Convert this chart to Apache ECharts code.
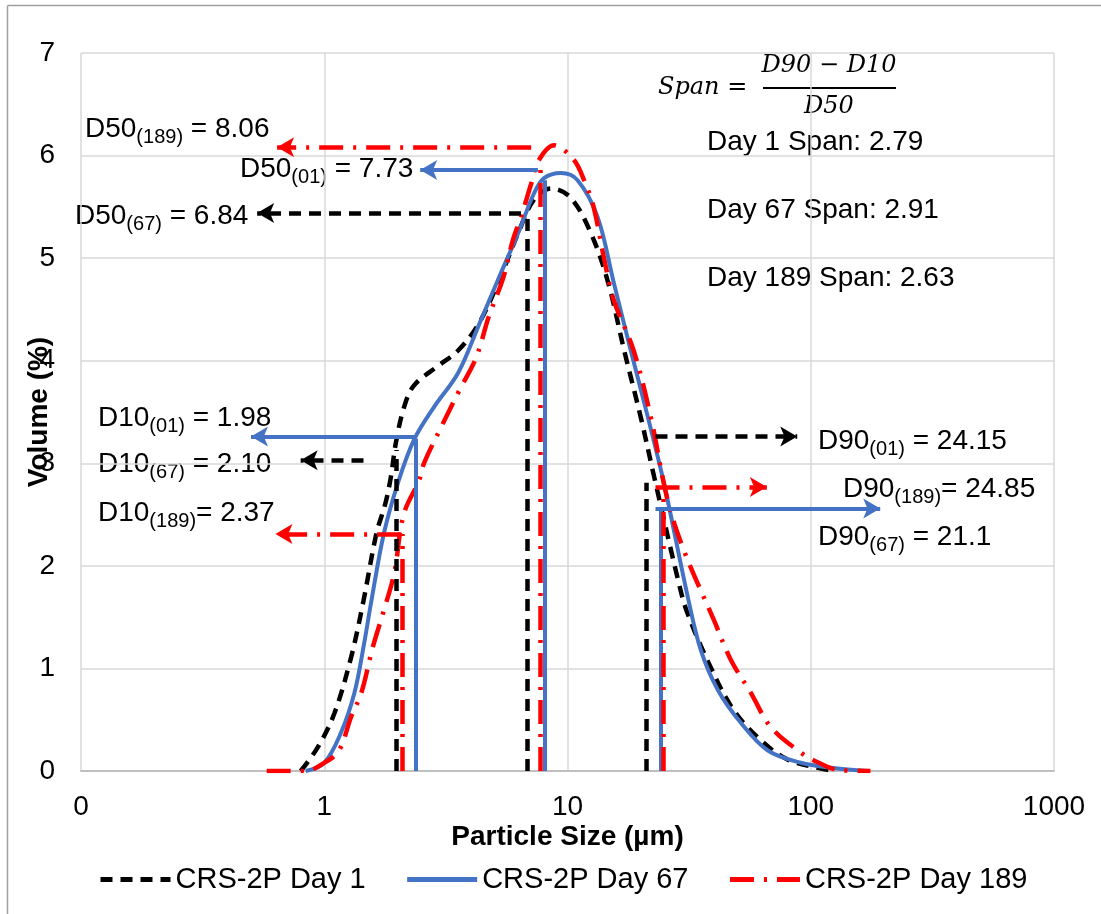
<!DOCTYPE html>
<html>
<head>
<meta charset="utf-8">
<script src="https://cdn.jsdelivr.net/npm/echarts@6/dist/echarts.min.js"></script>
<style>
  html, body { margin: 0; padding: 0; background: #ffffff; }
  #chart { width: 1101px; height: 914px; }
</style>
</head>
<body>
<div id="chart"></div>
<script>
// Particle size distribution curves (size in µm, volume in %)
const day1Size   = [0.80, 0.94, 1.10, 1.29, 1.45, 1.64, 1.78, 1.88, 1.97, 2.13, 2.34, 2.94, 3.55, 4.29, 5.18, 6.26, 7.28, 8.56, 10.3, 12.5, 14.7, 17.1, 20.0, 22.7, 28.5, 31.0, 38.8, 48.3, 62.3, 80.5, 107, 124];
const day1Volume = [0.00, 0.23, 0.56, 1.11, 1.66, 2.32, 2.60, 2.87, 3.20, 3.55, 3.76, 3.95, 4.10, 4.35, 4.76, 5.24, 5.57, 5.68, 5.59, 5.24, 4.76, 4.10, 3.45, 2.87, 1.86, 1.55, 1.01, 0.59, 0.30, 0.11, 0.03, 0.00];

const day67Size   = [0.84, 1.00, 1.17, 1.33, 1.46, 1.56, 1.76, 2.01, 2.34, 2.83, 3.55, 4.29, 5.18, 6.26, 7.28, 8.01, 9.40, 11.0, 13.3, 15.5, 18.2, 21.4, 24.9, 31.2, 35.3, 41.5, 51.6, 66.6, 91.0, 124, 171];
const day67Volume = [0.00, 0.08, 0.37, 0.76, 1.25, 1.65, 2.32, 2.81, 3.23, 3.55, 3.88, 4.33, 4.79, 5.24, 5.63, 5.78, 5.83, 5.76, 5.40, 4.76, 4.10, 3.45, 2.81, 1.70, 1.18, 0.79, 0.47, 0.20, 0.08, 0.03, 0.00];

const day189Size   = [0.58, 0.84, 1.00, 1.15, 1.29, 1.42, 1.58, 1.75, 1.94, 2.12, 2.46, 2.57, 3.02, 3.59, 4.21, 4.76, 5.43, 5.97, 6.44, 7.10, 7.60, 8.80, 10.6, 11.7, 12.8, 14.1, 15.5, 18.7, 22.0, 25.8, 30.1, 40.0, 47.0, 56.8, 68.4, 91.0, 108, 130, 176];
const day189Volume = [0.00, 0.00, 0.08, 0.20, 0.53, 0.76, 1.20, 1.55, 1.93, 2.50, 2.84, 3.00, 3.35, 3.71, 4.03, 4.44, 4.80, 5.18, 5.40, 5.73, 5.95, 6.10, 5.96, 5.76, 5.50, 5.01, 4.59, 4.10, 3.45, 2.64, 2.15, 1.47, 1.08, 0.76, 0.43, 0.18, 0.08, 0.01, 0.00];

const seriesNames = ['CRS-2P Day 1', 'CRS-2P Day 67', 'CRS-2P Day 189'];

// Characteristic diameters, in label order: (01), (67), (189)
const d10Values = [1.98, 2.10, 2.37];
const d50Values = [7.73, 6.84, 8.06];
const d90Values = [24.15, 21.1, 24.85];
const spanValues = [2.79, 2.91, 2.63];
const dayTags = ['01', '67', '189'];
const dayNumbers = ['1', '67', '189'];

function pairs(xs, ys) { return xs.map((x, i) => [x, ys[i]]); }

const BLACK = '#000000', BLUE = '#4472C4', RED = '#FF0000';
const dashBlack = [12, 8];
const dashRed = [24, 10, 3, 10];

// Guide lines for each curve: drop lines [x, top] and arrows [from, to, level]
const guides = {
  black: {
    drops: [[d10Values[0], 3.13], [d50Values[1], 5.40], [d90Values[1], 2.81]],
    arrows: [[6.44, 0.53, 5.44], [1.45, 0.80, 3.03], [23.0, 88.0, 3.26]]
  },
  blue: {
    drops: [[d10Values[2], 3.24], [d50Values[2], 5.76], [d90Values[0], 2.56]],
    arrows: [[7.56, 2.48, 5.86], [2.34, 0.50, 3.26], [23.0, 193, 2.56]]
  },
  red: {
    drops: [[d10Values[1], 2.31], [d50Values[0], 5.93], [d90Values[2], 2.77]],
    arrows: [[7.09, 0.64, 6.08], [2.07, 0.63, 2.31], [23.0, 66.0, 2.77]]
  }
};

function guideLines(g) {
  const out = [];
  g.drops.forEach(([x, top]) => {
    out.push([{ coord: [x, 0], symbol: 'none' }, { coord: [x, top], symbol: 'none' }]);
  });
  g.arrows.forEach(([x1, x2, y]) => {
    out.push([{ coord: [x1, y], symbol: 'none' }, { coord: [x2, y], symbol: 'arrow' }]);
  });
  return out;
}

function makeSeries(name, data, color, dash, width, g) {
  return {
    name: name,
    type: 'line',
    data: data,
    smooth: 0.35,
    symbol: 'none',
    showSymbol: false,
    lineStyle: { color: color, width: width, type: dash, cap: 'butt' },
    itemStyle: { color: color },
    z: 3,
    markLine: {
      silent: true,
      animation: false,
      symbolSize: [15, 17],
      label: { show: false },
      emphasis: { disabled: true },
      lineStyle: { color: color, width: width, type: dash },
      data: guideLines(g)
    }
  };
}

const FONT = '"Liberation Sans", Arial, sans-serif';
const SERIF = '"DejaVu Serif", "Liberation Serif", serif';

// Label text with subscripted day tag
function dLabel(prefix, tag, value, gap, x, cy) {
  return {
    type: 'text',
    left: x,
    top: cy - 13,
    silent: true,
    style: {
      text: '{m|' + prefix + '}{s|(' + tag + ')}{m|' + gap + '= ' + value + '}',
      rich: {
        m: { fontFamily: FONT, fontSize: 28, lineHeight: 28, verticalAlign: 'top', fill: '#000' },
        s: { fontFamily: FONT, fontSize: 20, lineHeight: 20, verticalAlign: 'top', padding: [12, 0, 0, 0], fill: '#000' }
      }
    }
  };
}

function plainText(text, x, cy) {
  return {
    type: 'text', left: x, top: cy - 15, silent: true,
    style: { text: text, fontFamily: FONT, fontSize: 28, fill: '#000' }
  };
}

const graphics = [
  // outer frame
  { type: 'line', silent: true, shape: { x1: 7.5, y1: 5.5, x2: 7.5, y2: 914 }, style: { stroke: '#a0a0a0', lineWidth: 1.5 } },
  { type: 'line', silent: true, shape: { x1: 7.5, y1: 5.5, x2: 1101, y2: 5.5 }, style: { stroke: '#a0a0a0', lineWidth: 1.5 } },

  dLabel('D50', dayTags[2], d50Values[2].toFixed(2), ' ', 85, 128),
  dLabel('D50', dayTags[0], d50Values[0].toFixed(2), ' ', 240, 168),
  dLabel('D50', dayTags[1], d50Values[1].toFixed(2), ' ', 75, 215),
  dLabel('D10', dayTags[0], d10Values[0].toFixed(2), ' ', 98, 417),
  dLabel('D10', dayTags[1], d10Values[1].toFixed(2), ' ', 98, 463),
  dLabel('D10', dayTags[2], d10Values[2].toFixed(2), '', 98, 512),
  dLabel('D90', dayTags[0], d90Values[0].toFixed(2), ' ', 818, 440),
  dLabel('D90', dayTags[2], d90Values[2].toFixed(2), '', 843, 488),
  dLabel('D90', dayTags[1], String(d90Values[1]), ' ', 818, 536),

  plainText('Day ' + dayNumbers[0] + ' Span: ' + spanValues[0].toFixed(2), 707, 143),
  plainText('Day ' + dayNumbers[1] + ' Span: ' + spanValues[1].toFixed(2), 707, 211),
  plainText('Day ' + dayNumbers[2] + ' Span: ' + spanValues[2].toFixed(2), 707, 279),

  // span formula
  { type: 'text', silent: true, x: 658, y: 88,
    style: { text: 'Span =', fontFamily: SERIF, fontStyle: 'italic', fontSize: 24, fill: '#000', verticalAlign: 'middle', align: 'left' } },
  { type: 'text', silent: true, x: 829, y: 66,
    style: { text: 'D90 \u2212 D10', fontFamily: SERIF, fontStyle: 'italic', fontSize: 24, fill: '#000', verticalAlign: 'middle', align: 'center' } },
  { type: 'line', silent: true, shape: { x1: 763, y1: 88, x2: 896, y2: 88 }, style: { stroke: '#000', lineWidth: 1.8 } },
  { type: 'text', silent: true, x: 829, y: 107,
    style: { text: 'D50', fontFamily: SERIF, fontStyle: 'italic', fontSize: 24, fill: '#000', verticalAlign: 'middle', align: 'center' } }
];

const chart = echarts.init(document.getElementById('chart'), null, { renderer: 'canvas' });

chart.setOption({
  animation: false,
  backgroundColor: '#ffffff',
  textStyle: { fontFamily: FONT },
  grid: { left: 81, right: 47, top: 53, bottom: 143, containLabel: false, outerBoundsMode: 'none' },
  legend: {
    left: 93,
    top: 860,
    itemWidth: 70,
    itemHeight: 14,
    itemGap: 39,
    itemStyle: { opacity: 0 },
    lineStyle: { width: 5 },
    textStyle: { fontFamily: FONT, fontSize: 29, color: '#000' },
    data: seriesNames
  },
  xAxis: {
    type: 'log',
    logBase: 10,
    min: 0.1,
    max: 1000,
    name: 'Particle Size (\u00b5m)',
    nameLocation: 'middle',
    nameGap: 52,
    nameMoveOverlap: false,
    nameTextStyle: { fontFamily: FONT, fontSize: 28, fontWeight: 'bold', color: '#000' },
    axisLine: { show: true, lineStyle: { color: '#bfbfbf', width: 2 } },
    axisTick: { show: false },
    axisLabel: {
      margin: 22,
      fontFamily: FONT, fontSize: 28, color: '#000',
      formatter: v => (v < 1 ? '0' : String(Math.round(v)))
    },
    splitLine: { show: true, lineStyle: { color: '#d9d9d9', width: 1.5 } },
    minorSplitLine: { show: false }
  },
  yAxis: {
    type: 'value',
    min: 0,
    max: 7,
    interval: 1,
    name: 'Volume (%)',
    nameLocation: 'middle',
    nameGap: 28,
    nameRotate: 90,
    nameMoveOverlap: false,
    nameTextStyle: { fontFamily: FONT, fontSize: 28, fontWeight: 'bold', color: '#000' },
    axisLine: { show: false },
    axisTick: { show: false },
    axisLabel: { margin: 26, fontFamily: FONT, fontSize: 28, color: '#000' },
    splitLine: { show: true, lineStyle: { color: '#d9d9d9', width: 1.5 } }
  },
  series: [
    makeSeries(seriesNames[0], pairs(day1Size, day1Volume), BLACK, dashBlack, 4.5, guides.black),
    makeSeries(seriesNames[1], pairs(day67Size, day67Volume), BLUE, 'solid', 4, guides.blue),
    makeSeries(seriesNames[2], pairs(day189Size, day189Volume), RED, dashRed, 4.5, guides.red)
  ],
  graphic: graphics
});
</script>
</body>
</html>
